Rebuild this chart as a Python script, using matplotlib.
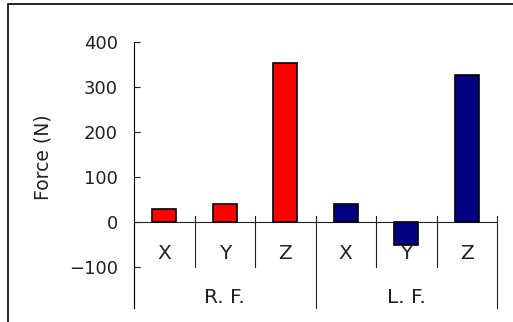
import matplotlib.pyplot as plt
from matplotlib.patches import Rectangle

# data
groups = ['R. F.', 'L. F.']
axes_names = ['X', 'Y', 'Z']
rf_force = [30, 40, 353]
lf_force = [40, -50, 327]

W, H = 513, 322
fig = plt.figure(figsize=(W / 100, H / 100), dpi=100)
plt.rcParams['font.family'] = ['DejaVu Sans']

# outer frame (left/top visible, cut off on right/bottom)
fig.patches.append(Rectangle((8 / W, -0.1), 1.2, 1 - 4 / H + 0.1,
                             transform=fig.transFigure, fill=False,
                             edgecolor='black', linewidth=1.2))

ax = fig.add_axes([134 / W, 1 - 308 / H, (497 - 134) / W, (308 - 42) / H])

vals = rf_force + lf_force
colors = ['#ff0000'] * len(rf_force) + ['#000080'] * len(lf_force)
xs = list(range(len(vals)))
ax.bar(xs, vals, width=0.4, color=colors, edgecolor='black', linewidth=1.2, zorder=3)

ax.set_xlim(-0.5, len(vals) - 0.5)
ax.set_ylim(-190, 400)
ax.set_yticks([-100, 0, 100, 200, 300, 400])
ax.set_yticklabels(['\u2212100', '0', '100', '200', '300', '400'])
ax.tick_params(axis='y', direction='in', length=4, width=0.8, pad=11.5,
               labelsize=13, colors='#222222')
ax.set_xticks([])
for s in ['top', 'right', 'bottom']:
    ax.spines[s].set_visible(False)
ax.spines['left'].set_linewidth(0.8)

# zero line
ax.axhline(0, color='#222222', linewidth=0.8, zorder=2)

# category separators
n = len(axes_names)
for i in range(len(vals) + 1):
    x = i - 0.5
    low = -190 if i % n == 0 else -98
    ax.plot([x, x], [13, low], color='#222222', linewidth=0.8, clip_on=False)

# category labels
for i, v in enumerate(vals):
    ax.text(i, -70, axes_names[i % n], ha='center', va='center', fontsize=14.5,
            color='#222222')
for g, name in enumerate(groups):
    ax.text(g * n + (n - 1) / 2, -166, name, ha='center', va='center',
            fontsize=14.5, color='#222222')

fig.text(43 / W, 1 - 157 / H, 'Force (N)', rotation=90, ha='center', va='center',
         fontsize=13.5, color='#222222')

fig.savefig('out.png', dpi=100)
